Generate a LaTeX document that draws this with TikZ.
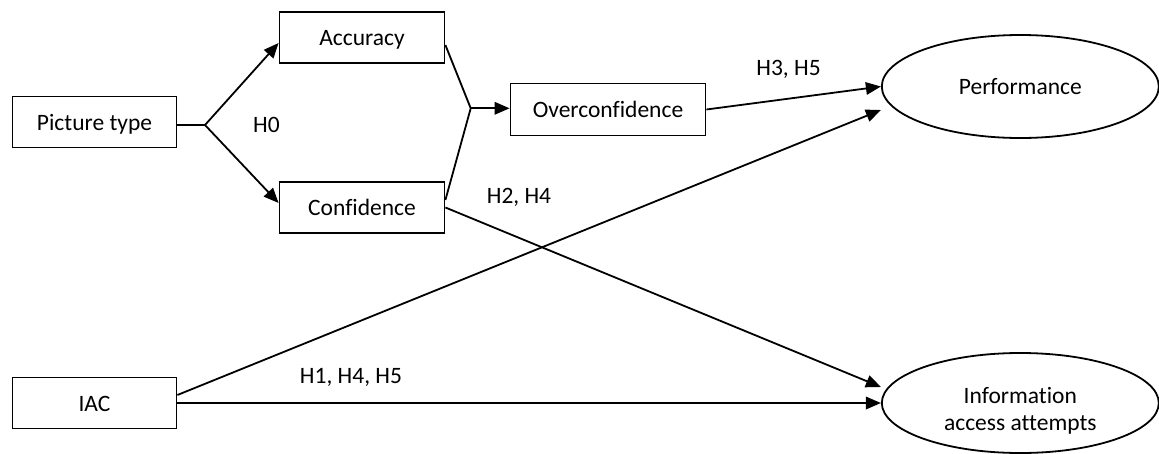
\documentclass[tikz,border=0pt]{standalone}
\usepackage{fontspec}
\setmainfont{Carlito}[Ligatures={NoCommon}]
\usetikzlibrary{arrows.meta,shapes.geometric}
\begin{document}
\begin{tikzpicture}[x=1pt,y=-1pt,
  every node/.style={font=\fontsize{23.5}{27.4}\selectfont},
  box/.style={draw,line width=1.8pt,rectangle,minimum height=51pt,inner sep=0pt,
    text height=16.5pt,text depth=0pt},
  oval/.style={draw,line width=1.8pt,ellipse,inner sep=0pt},
  link/.style={line width=1.8pt},
  arr/.style={link,-{Triangle[length=15pt,width=12.5pt]}},
  hyp/.style={anchor=base}]
\useasboundingbox (0,0) rectangle (1159,453);

% constructs
\node[box,minimum width=164pt] (pic) at (94.5,122) {Picture type};
\node[box,minimum width=165pt] (acc) at (362,37.5) {Accuracy};
\node[box,minimum width=165pt] (conf) at (362,207.5) {Confidence};
\node[box,minimum width=195pt,minimum height=52pt] (over) at (608,109.5) {Overconfidence};
\node[box,minimum width=164pt] (iac) at (94.5,403) {IAC};
\node[oval,minimum width=277pt,minimum height=103pt,text height=16.5pt,text depth=0pt]
  (perf) at (1020.3,86.5) {Performance};
\node[oval,minimum width=277pt,minimum height=100pt,text height=14pt,text depth=14pt]
  (info) at (1020.3,403) {\begin{tabular}[t]{@{}c@{}}Information\\access attempts\end{tabular}};

% branching points
\coordinate (fork) at (205,125);
\coordinate (join) at (470.7,108.3);

% paths
\draw[link] (fork -| pic.east) -- (fork);
\draw[arr] (fork) -- ([yshift=-5.5pt]acc.west);
\draw[arr] (fork) -- ([yshift=4.5pt]conf.west);
\draw[link] ([yshift=-7.5pt]acc.east) -- (join) -- ([yshift=7.5pt]conf.east);
\draw[arr] (join) -- (join -| over.west);
\draw[arr] (over.east) -- (perf.west);
\draw[arr] ([yshift=8pt]iac.east) -- ([yshift=-23.5pt]perf.west);
\draw[arr] (conf.east) -- ([yshift=16pt]info.west);
\draw[arr] (iac.east) -- (info.west);

% hypothesis labels
\node[hyp] (h0) at (266.5,132) {H0};
\node[hyp] (h35) at (788.5,75) {H3, H5};
\node[hyp] (h24) at (519,203) {H2, H4};
\node[hyp] (h145) at (351,383) {H1, H4, H5};
\end{tikzpicture}
\end{document}
